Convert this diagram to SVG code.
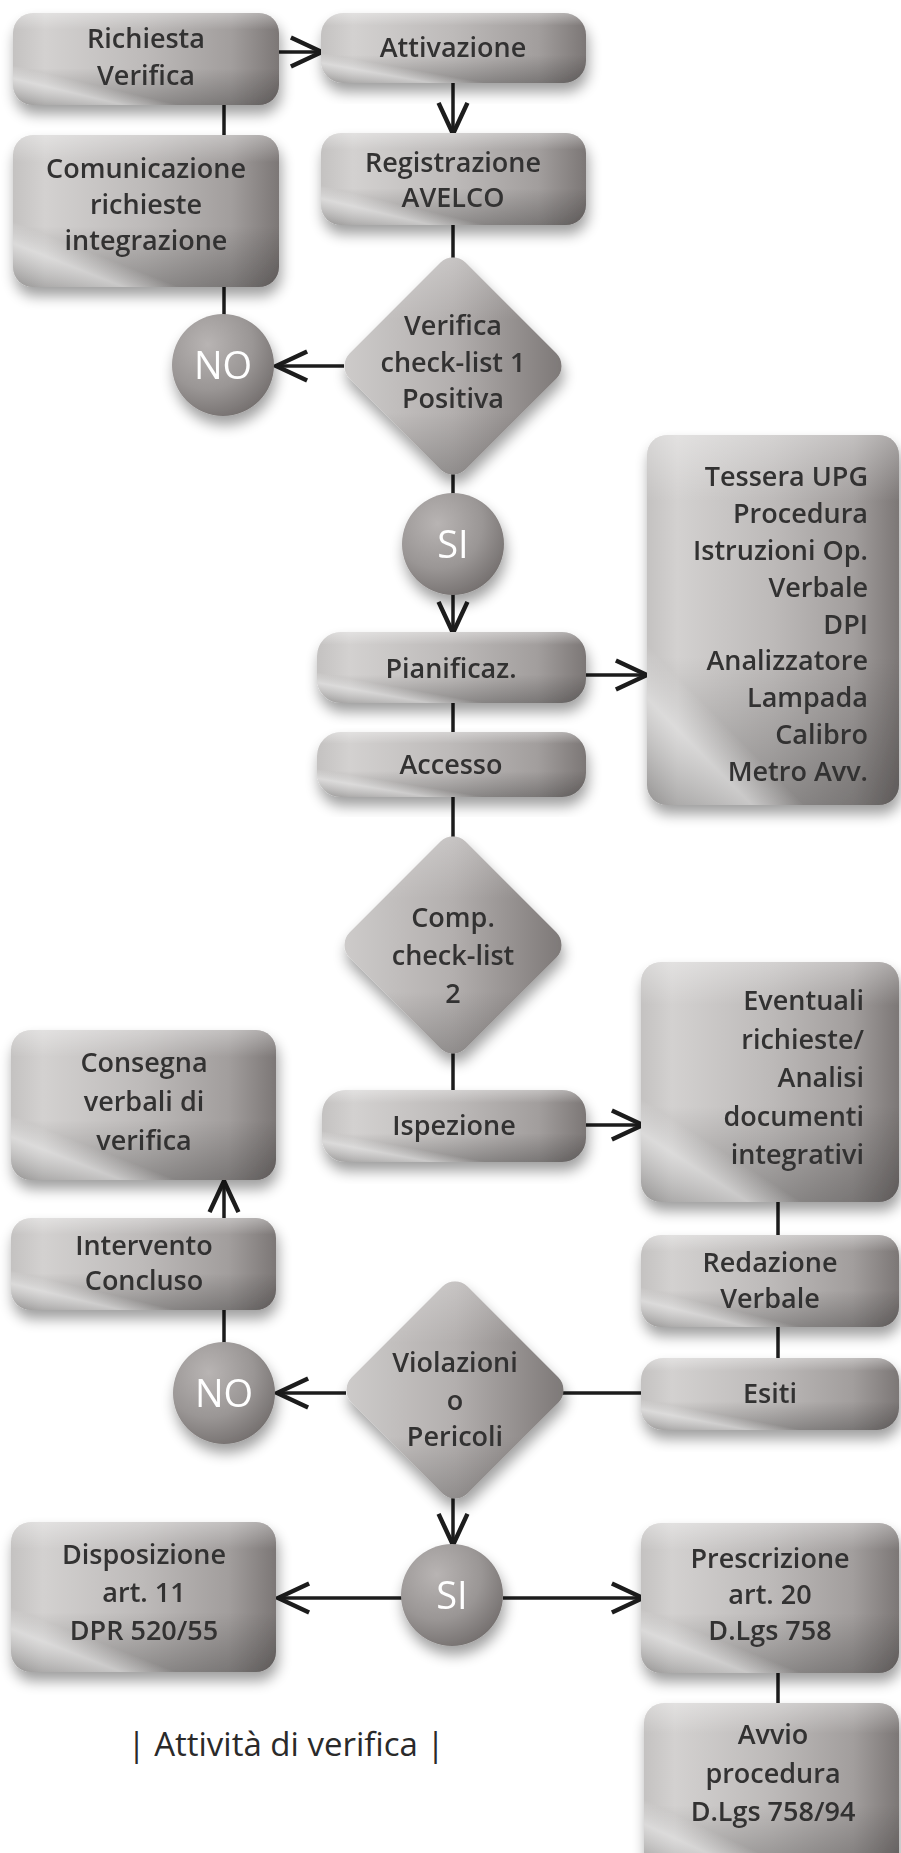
<svg xmlns="http://www.w3.org/2000/svg" width="901" height="1853" viewBox="0 0 901 1853">
<defs>
<linearGradient id="gBox" x1="0" y1="0" x2="1" y2="0">
<stop offset="0" stop-color="#c4c2c1"/>
<stop offset="0.12" stop-color="#d3d1d0"/>
<stop offset="0.5" stop-color="#bdbab9"/>
<stop offset="0.82" stop-color="#a29e9d"/>
<stop offset="1" stop-color="#7c7776"/>
</linearGradient>
<linearGradient id="gShade" x1="0" y1="0" x2="0" y2="1">
<stop offset="0" stop-color="#ffffff" stop-opacity="0.35"/>
<stop offset="0.18" stop-color="#ffffff" stop-opacity="0"/>
<stop offset="0.6" stop-color="#000000" stop-opacity="0"/>
<stop offset="1" stop-color="#000000" stop-opacity="0.25"/>
</linearGradient>
<linearGradient id="gSheen" x1="0" y1="1" x2="0.45" y2="0.35">
<stop offset="0" stop-color="#ffffff" stop-opacity="0"/>
<stop offset="0.3" stop-color="#ffffff" stop-opacity="0.5"/>
<stop offset="0.45" stop-color="#ffffff" stop-opacity="0"/>
</linearGradient>
<linearGradient id="gDia" x1="0" y1="1" x2="1" y2="0">
<stop offset="0" stop-color="#cfcdcc"/>
<stop offset="0.5" stop-color="#b3afae"/>
<stop offset="1" stop-color="#7a7574"/>
</linearGradient>
<linearGradient id="gDiaShade" x1="0" y1="0" x2="1" y2="1">
<stop offset="0" stop-color="#ffffff" stop-opacity="0.3"/>
<stop offset="0.3" stop-color="#ffffff" stop-opacity="0"/>
<stop offset="0.7" stop-color="#000000" stop-opacity="0"/>
<stop offset="1" stop-color="#000000" stop-opacity="0.22"/>
</linearGradient>
<radialGradient id="gCirc" cx="0.35" cy="0.3" r="0.8">
<stop offset="0" stop-color="#b8b4b3"/>
<stop offset="0.55" stop-color="#9a9695"/>
<stop offset="1" stop-color="#6f6a69"/>
</radialGradient>
<filter id="shadow" x="-20%" y="-20%" width="140%" height="150%">
<feGaussianBlur in="SourceAlpha" stdDeviation="7"/>
<feOffset dx="2" dy="9" result="b"/>
<feComponentTransfer><feFuncA type="linear" slope="0.38"/></feComponentTransfer>
<feMerge><feMergeNode/><feMergeNode in="SourceGraphic"/></feMerge>
</filter>
<marker id="arr" markerUnits="userSpaceOnUse" markerWidth="40" markerHeight="40" viewBox="-32 -16 36 32" refX="0" refY="0" orient="auto">
<path d="M-28,-13 L0,0 L-28,13" fill="none" stroke="#1c1c1c" stroke-width="4" stroke-linejoin="miter"/>
</marker>
</defs>
<style>
.box{fill:url(#gBox)}
.shade{fill:url(#gShade)}
.sheen{fill:url(#gSheen)}
.dia{fill:url(#gDia)}
.diashade{fill:url(#gDiaShade)}
.circ{fill:url(#gCirc)}
.t{font-family:"Open Sans","Liberation Sans",sans-serif;font-weight:600;font-size:27px;fill:#333131;text-anchor:middle}
.tr{text-anchor:end}
.c{font-family:"Open Sans","Liberation Sans",sans-serif;font-weight:400;font-size:38px;fill:#ffffff;text-anchor:middle}
.cap{font-family:"Open Sans","Liberation Sans",sans-serif;font-weight:400;font-size:33px;fill:#2a2a2a;text-anchor:middle}
.ln{stroke:#1c1c1c;stroke-width:3.5;fill:none}
</style>
<rect width="901" height="1853" fill="#ffffff"/>

<g id="connectors">
<line class="ln" x1="279" y1="52" x2="322" y2="52" marker-end="url(#arr)"/>
<line class="ln" x1="453" y1="83" x2="453" y2="134" marker-end="url(#arr)"/>
<line class="ln" x1="224" y1="105" x2="224" y2="135"/>
<line class="ln" x1="453" y1="225" x2="453" y2="262"/>
<line class="ln" x1="224" y1="287" x2="224" y2="316"/>
<line class="ln" x1="344" y1="366" x2="276" y2="366" marker-end="url(#arr)"/>
<line class="ln" x1="453" y1="472" x2="453" y2="495"/>
<line class="ln" x1="453" y1="593" x2="453" y2="633" marker-end="url(#arr)"/>
<line class="ln" x1="586" y1="675" x2="647" y2="675" marker-end="url(#arr)"/>
<line class="ln" x1="453" y1="703" x2="453" y2="732"/>
<line class="ln" x1="453" y1="797" x2="453" y2="840"/>
<line class="ln" x1="453" y1="1050" x2="453" y2="1090"/>
<line class="ln" x1="586" y1="1125" x2="643" y2="1125" marker-end="url(#arr)"/>
<line class="ln" x1="778" y1="1202" x2="778" y2="1236"/>
<line class="ln" x1="778" y1="1327" x2="778" y2="1358"/>
<line class="ln" x1="641" y1="1393" x2="562" y2="1393"/>
<line class="ln" x1="346" y1="1393" x2="277" y2="1393" marker-end="url(#arr)"/>
<line class="ln" x1="224" y1="1343" x2="224" y2="1310"/>
<line class="ln" x1="224" y1="1218" x2="224" y2="1181" marker-end="url(#arr)"/>
<line class="ln" x1="453" y1="1497" x2="453" y2="1545" marker-end="url(#arr)"/>
<line class="ln" x1="402" y1="1598" x2="278" y2="1598" marker-end="url(#arr)"/>
<line class="ln" x1="503" y1="1598" x2="643" y2="1598" marker-end="url(#arr)"/>
<line class="ln" x1="778" y1="1673" x2="778" y2="1703"/>
</g>

<g id="richiesta" filter="url(#shadow)">
<rect class="box" x="13" y="13" width="266" height="92" rx="20"/>
<rect class="shade" x="13" y="13" width="266" height="92" rx="20"/>
<rect class="sheen" x="13" y="13" width="266" height="92" rx="20"/>
<text class="t" x="146" y="48">Richiesta</text>
<text class="t" x="146" y="85">Verifica</text>
</g>

<g id="attivazione" filter="url(#shadow)">
<rect class="box" x="321" y="13" width="265" height="70" rx="22"/>
<rect class="shade" x="321" y="13" width="265" height="70" rx="22"/>
<rect class="sheen" x="321" y="13" width="265" height="70" rx="22"/>
<text class="t" x="453" y="57">Attivazione</text>
</g>

<g id="registrazione" filter="url(#shadow)">
<rect class="box" x="321" y="133" width="265" height="92" rx="20"/>
<rect class="shade" x="321" y="133" width="265" height="92" rx="20"/>
<rect class="sheen" x="321" y="133" width="265" height="92" rx="20"/>
<text class="t" x="453" y="172">Registrazione</text>
<text class="t" x="453" y="207">AVELCO</text>
</g>

<g id="comunicazione" filter="url(#shadow)">
<rect class="box" x="13" y="135" width="266" height="152" rx="20"/>
<rect class="shade" x="13" y="135" width="266" height="152" rx="20"/>
<rect class="sheen" x="13" y="135" width="266" height="152" rx="20"/>
<text class="t" x="146" y="178">Comunicazione</text>
<text class="t" x="146" y="214">richieste</text>
<text class="t" x="146" y="250">integrazione</text>
</g>

<g id="verifica1" filter="url(#shadow)">
<rect class="dia" x="-82" y="-82" width="164" height="164" rx="18" transform="translate(453,366) rotate(45)"/>
<rect class="diashade" x="-82" y="-82" width="164" height="164" rx="18" transform="translate(453,366) rotate(45)"/>
<text class="t" x="453" y="335">Verifica</text>
<text class="t" x="453" y="372">check-list 1</text>
<text class="t" x="453" y="408">Positiva</text>
</g>

<g id="no1" filter="url(#shadow)">
<circle class="circ" cx="223" cy="365" r="51"/>
<text class="c" x="223" y="379">NO</text>
</g>

<g id="si1" filter="url(#shadow)">
<circle class="circ" cx="453" cy="544" r="51"/>
<text class="c" x="453" y="558">SI</text>
</g>

<g id="pianificaz" filter="url(#shadow)">
<rect class="box" x="317" y="632" width="269" height="71" rx="24"/>
<rect class="shade" x="317" y="632" width="269" height="71" rx="24"/>
<rect class="sheen" x="317" y="632" width="269" height="71" rx="24"/>
<text class="t" x="451" y="678">Pianificaz.</text>
</g>

<g id="strumenti" filter="url(#shadow)">
<rect class="box" x="647" y="435" width="252" height="370" rx="20"/>
<rect class="shade" x="647" y="435" width="252" height="370" rx="20"/>
<rect class="sheen" x="647" y="435" width="252" height="370" rx="20"/>
<text class="t tr" x="868" y="486">Tessera UPG</text>
<text class="t tr" x="868" y="523">Procedura</text>
<text class="t tr" x="868" y="560">Istruzioni Op.</text>
<text class="t tr" x="868" y="597">Verbale</text>
<text class="t tr" x="868" y="634">DPI</text>
<text class="t tr" x="868" y="670">Analizzatore</text>
<text class="t tr" x="868" y="707">Lampada</text>
<text class="t tr" x="868" y="744">Calibro</text>
<text class="t tr" x="868" y="781">Metro Avv.</text>
</g>

<g id="accesso" filter="url(#shadow)">
<rect class="box" x="317" y="732" width="269" height="65" rx="24"/>
<rect class="shade" x="317" y="732" width="269" height="65" rx="24"/>
<rect class="sheen" x="317" y="732" width="269" height="65" rx="24"/>
<text class="t" x="451" y="774">Accesso</text>
</g>

<g id="comp2" filter="url(#shadow)">
<rect class="dia" x="-82" y="-82" width="164" height="164" rx="18" transform="translate(453,945) rotate(45)"/>
<rect class="diashade" x="-82" y="-82" width="164" height="164" rx="18" transform="translate(453,945) rotate(45)"/>
<text class="t" x="453" y="927">Comp.</text>
<text class="t" x="453" y="965">check-list</text>
<text class="t" x="453" y="1003">2</text>
</g>

<g id="ispezione" filter="url(#shadow)">
<rect class="box" x="322" y="1090" width="264" height="72" rx="24"/>
<rect class="shade" x="322" y="1090" width="264" height="72" rx="24"/>
<rect class="sheen" x="322" y="1090" width="264" height="72" rx="24"/>
<text class="t" x="454" y="1135">Ispezione</text>
</g>

<g id="eventuali" filter="url(#shadow)">
<rect class="box" x="641" y="962" width="258" height="240" rx="20"/>
<rect class="shade" x="641" y="962" width="258" height="240" rx="20"/>
<rect class="sheen" x="641" y="962" width="258" height="240" rx="20"/>
<text class="t tr" x="864" y="1010">Eventuali</text>
<text class="t tr" x="864" y="1049">richieste/</text>
<text class="t tr" x="864" y="1087">Analisi</text>
<text class="t tr" x="864" y="1126">documenti</text>
<text class="t tr" x="864" y="1164">integrativi</text>
</g>

<g id="consegna" filter="url(#shadow)">
<rect class="box" x="11" y="1030" width="265" height="150" rx="20"/>
<rect class="shade" x="11" y="1030" width="265" height="150" rx="20"/>
<rect class="sheen" x="11" y="1030" width="265" height="150" rx="20"/>
<text class="t" x="144" y="1072">Consegna</text>
<text class="t" x="144" y="1111">verbali di</text>
<text class="t" x="144" y="1150">verifica</text>
</g>

<g id="intervento" filter="url(#shadow)">
<rect class="box" x="11" y="1218" width="265" height="92" rx="20"/>
<rect class="shade" x="11" y="1218" width="265" height="92" rx="20"/>
<rect class="sheen" x="11" y="1218" width="265" height="92" rx="20"/>
<text class="t" x="144" y="1255">Intervento</text>
<text class="t" x="144" y="1290">Concluso</text>
</g>

<g id="redazione" filter="url(#shadow)">
<rect class="box" x="641" y="1235" width="258" height="92" rx="20"/>
<rect class="shade" x="641" y="1235" width="258" height="92" rx="20"/>
<rect class="sheen" x="641" y="1235" width="258" height="92" rx="20"/>
<text class="t" x="770" y="1272">Redazione</text>
<text class="t" x="770" y="1308">Verbale</text>
</g>

<g id="esiti" filter="url(#shadow)">
<rect class="box" x="641" y="1358" width="258" height="72" rx="22"/>
<rect class="shade" x="641" y="1358" width="258" height="72" rx="22"/>
<rect class="sheen" x="641" y="1358" width="258" height="72" rx="22"/>
<text class="t" x="770" y="1403">Esiti</text>
</g>

<g id="violazioni" filter="url(#shadow)">
<rect class="dia" x="-82" y="-82" width="164" height="164" rx="18" transform="translate(455,1390) rotate(45)"/>
<rect class="diashade" x="-82" y="-82" width="164" height="164" rx="18" transform="translate(455,1390) rotate(45)"/>
<text class="t" x="455" y="1372">Violazioni</text>
<text class="t" x="455" y="1410">o</text>
<text class="t" x="455" y="1446">Pericoli</text>
</g>

<g id="no2" filter="url(#shadow)">
<circle class="circ" cx="224" cy="1393" r="51"/>
<text class="c" x="224" y="1407">NO</text>
</g>

<g id="si2" filter="url(#shadow)">
<circle class="circ" cx="452" cy="1595" r="51"/>
<text class="c" x="452" y="1609">SI</text>
</g>

<g id="disposizione" filter="url(#shadow)">
<rect class="box" x="11" y="1522" width="265" height="150" rx="20"/>
<rect class="shade" x="11" y="1522" width="265" height="150" rx="20"/>
<rect class="sheen" x="11" y="1522" width="265" height="150" rx="20"/>
<text class="t" x="144" y="1564">Disposizione</text>
<text class="t" x="144" y="1602">art. 11</text>
<text class="t" x="144" y="1640">DPR 520/55</text>
</g>

<g id="prescrizione" filter="url(#shadow)">
<rect class="box" x="641" y="1523" width="258" height="150" rx="20"/>
<rect class="shade" x="641" y="1523" width="258" height="150" rx="20"/>
<rect class="sheen" x="641" y="1523" width="258" height="150" rx="20"/>
<text class="t" x="770" y="1568">Prescrizione</text>
<text class="t" x="770" y="1604">art. 20</text>
<text class="t" x="770" y="1640">D.Lgs 758</text>
</g>

<g id="avvio" filter="url(#shadow)">
<rect class="box" x="644" y="1703" width="255" height="170" rx="20"/>
<rect class="shade" x="644" y="1703" width="255" height="170" rx="20"/>
<rect class="sheen" x="644" y="1703" width="255" height="170" rx="20"/>
<text class="t" x="773" y="1744">Avvio</text>
<text class="t" x="773" y="1783">procedura</text>
<text class="t" x="773" y="1821">D.Lgs 758/94</text>
</g>

<g id="caption">
<text class="cap" x="286" y="1756">| Attività di verifica |</text>
</g>
</svg>
